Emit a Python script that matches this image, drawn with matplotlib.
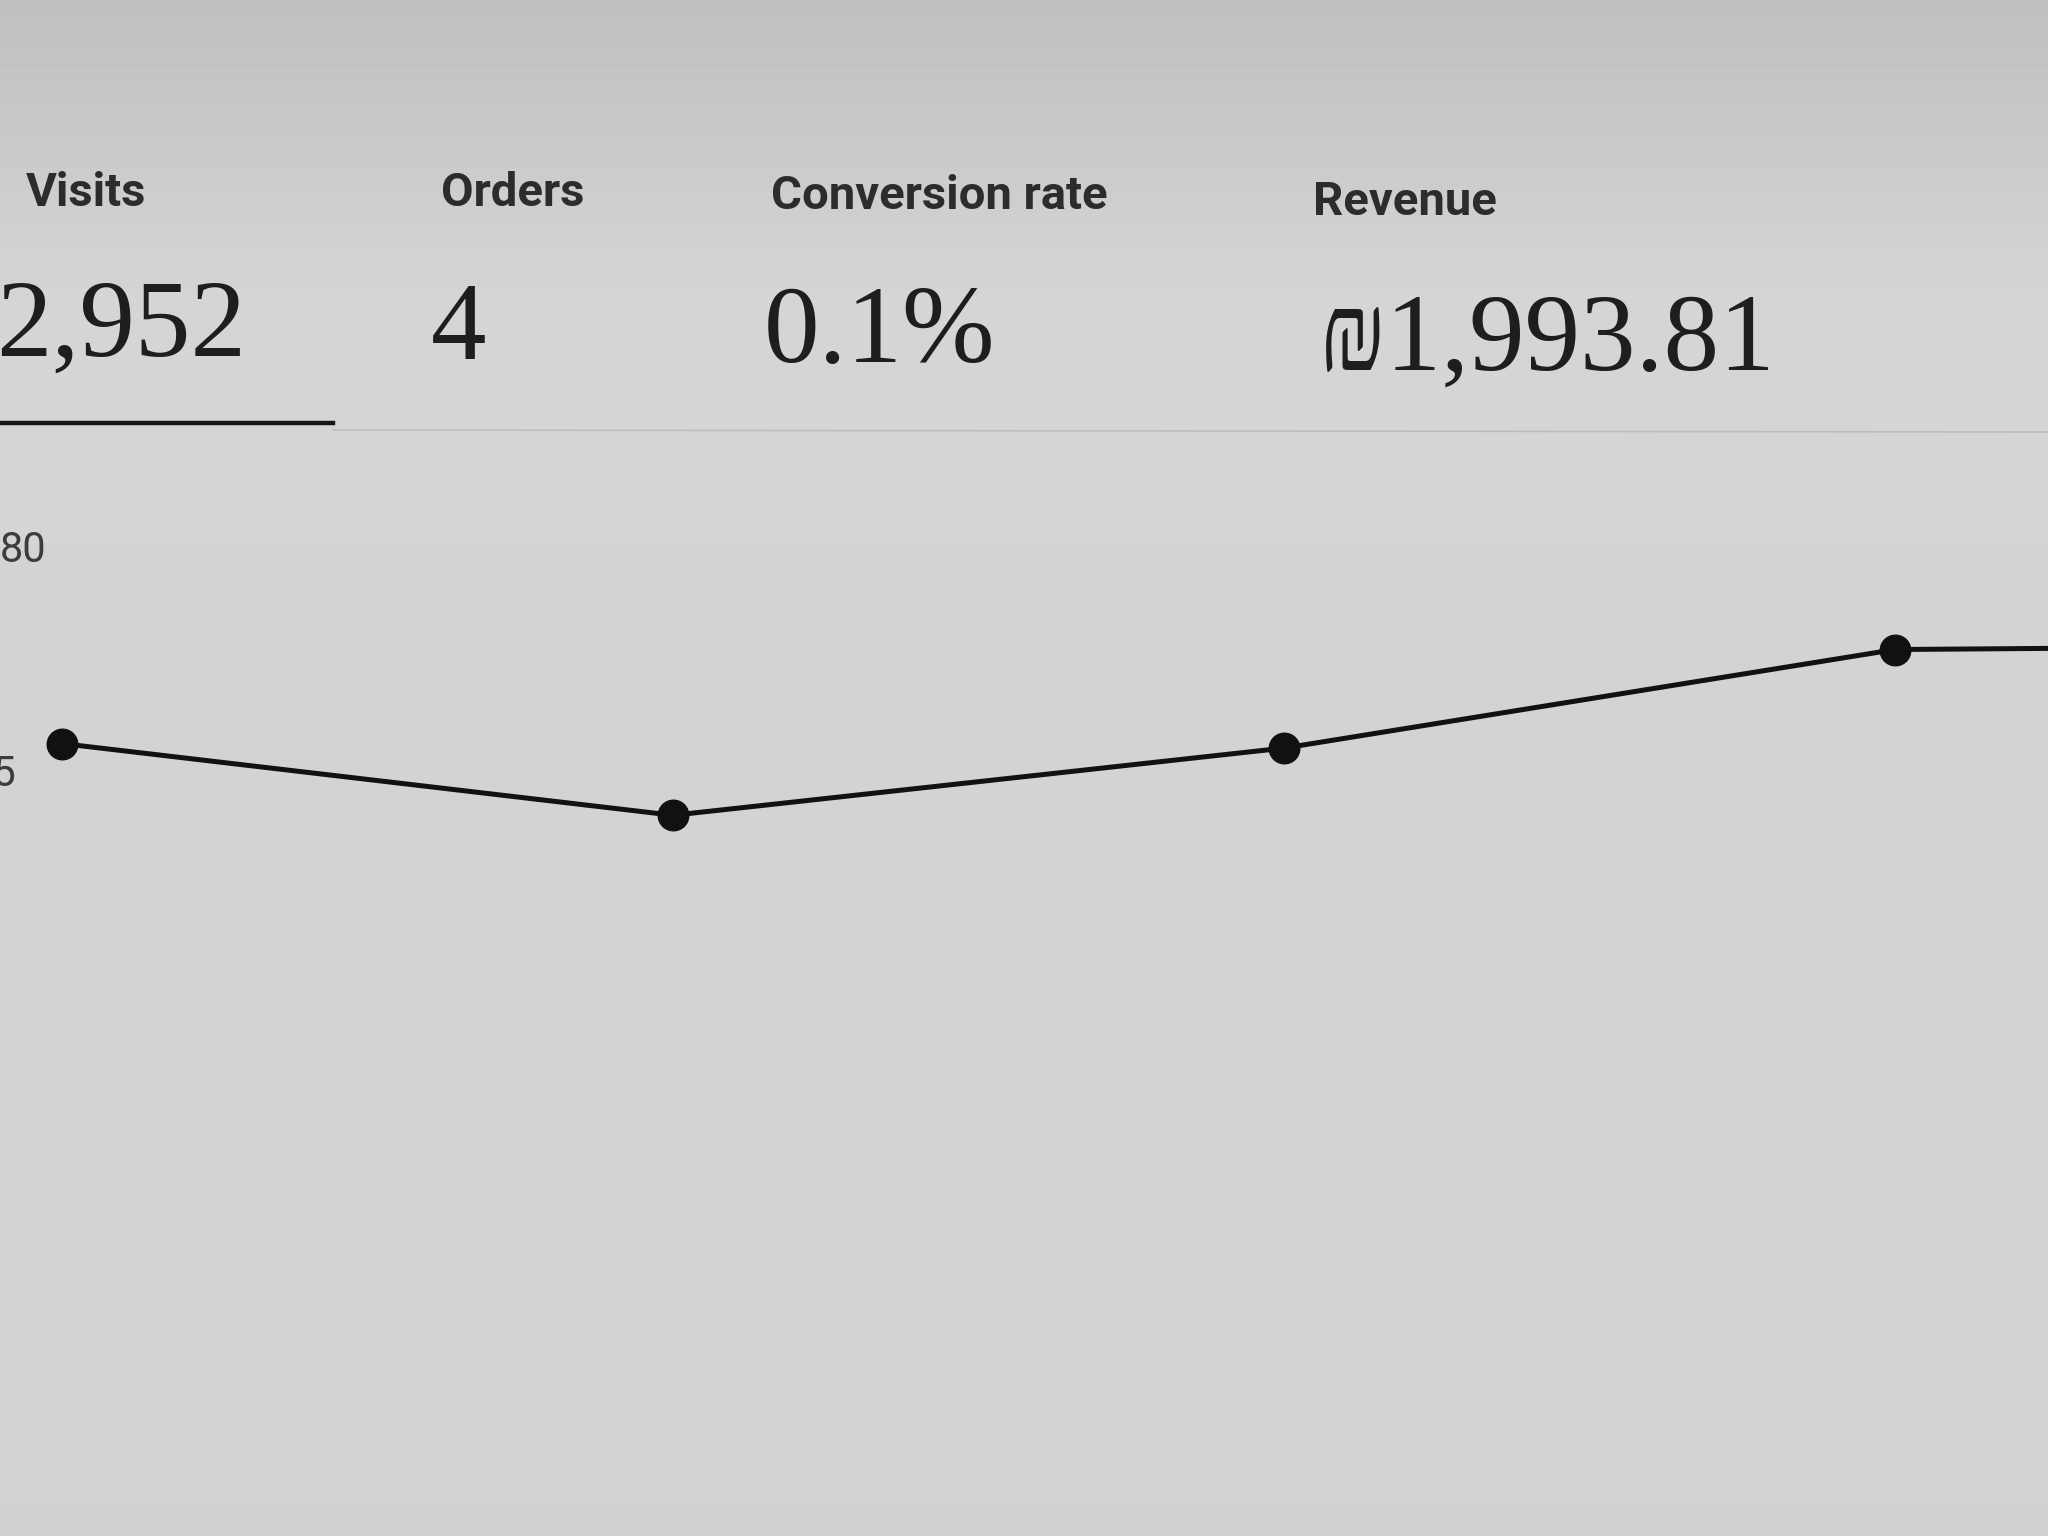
import matplotlib
matplotlib.use("Agg")
import matplotlib.pyplot as plt
import numpy as np

# ---- data ----
metric_labels = ["Visits", "Orders", "Conversion rate", "Revenue"]
metric_values = ["2,952", "4", "0.1%", "\u20aa1,993.81"]
day_index = [0, 1, 2, 3, 4]
visits = [75.7, 74.1, 75.6, 77.8, 77.9]
ytick_values = [75, 80]
ytick_labels = ["75", "80"]

W, H = 2048, 1536
fig = plt.figure(figsize=(W / 100, H / 100), dpi=100)

# background (photographed screen, slight vertical shading)
bg = fig.add_axes([0, 0, 1, 1], zorder=0)
grad = np.concatenate([np.linspace(0.75, 0.835, 300), np.linspace(0.835, 0.82, 1236)])
bg.imshow(grad[:, None], aspect="auto", cmap="gray", vmin=0, vmax=1,
          extent=[0, 1, 0, 1])
bg.set_axis_off()

ax = fig.add_axes([0, 0, 1, 1], zorder=1)
ax.patch.set_alpha(0)
ax.plot(day_index, visits, color="#111111", lw=3.6, marker="o",
        markersize=22, markerfacecolor="#111111", markeredgecolor="#111111",
        solid_joinstyle="round")
ax.set_xlim(-0.1015, 3.250)
ax.set_ylim(58.01, 92.30)
ax.set_axis_off()

# y tick labels drawn inside the visible area (the "7" of 75 falls off the edge)
ytr = ax.get_yaxis_transform()
ax.text(0.0, ytick_values[1], ytick_labels[1], transform=ytr, ha="left",
        va="center", fontsize=30, color="#3c3c3c", family=["Roboto", "DejaVu Sans"])
ax.text(16 / W, ytick_values[0], ytick_labels[0], transform=ytr, ha="right",
        va="center", fontsize=30, color="#3c3c3c", family=["Roboto", "DejaVu Sans"],
        clip_on=False)

# header metrics
label_x = [26, 441, 771, 1313]
label_base = [206, 206, 209, 215]
value_x = [-4, 431, 764, 1319]
value_base = [356, 359, 362, 370]
for lab, lx, lb in zip(metric_labels, label_x, label_base):
    fig.text(lx / W, 1 - lb / H, lab, ha="left", va="baseline", fontsize=34,
             fontweight="bold", color="#2c2c2c", family=["Roboto", "DejaVu Sans"])
for val, vx, vb in zip(metric_values, value_x, value_base):
    fig.text(vx / W, 1 - vb / H, val, ha="left", va="baseline", fontsize=80,
             color="#1e1e1e", family=["Liberation Serif", "DejaVu Serif"])

# underline of the selected tab and separator
fig.add_artist(plt.Line2D([0, 333 / W], [1 - 423 / H, 1 - 423 / H],
                          color="#151515", lw=3.2, transform=fig.transFigure))
fig.add_artist(plt.Line2D([333 / W, 1], [1 - 430 / H, 1 - 432 / H],
                          color="#bdbdbd", lw=1.2, transform=fig.transFigure))

fig.savefig("out.png", dpi=100)
